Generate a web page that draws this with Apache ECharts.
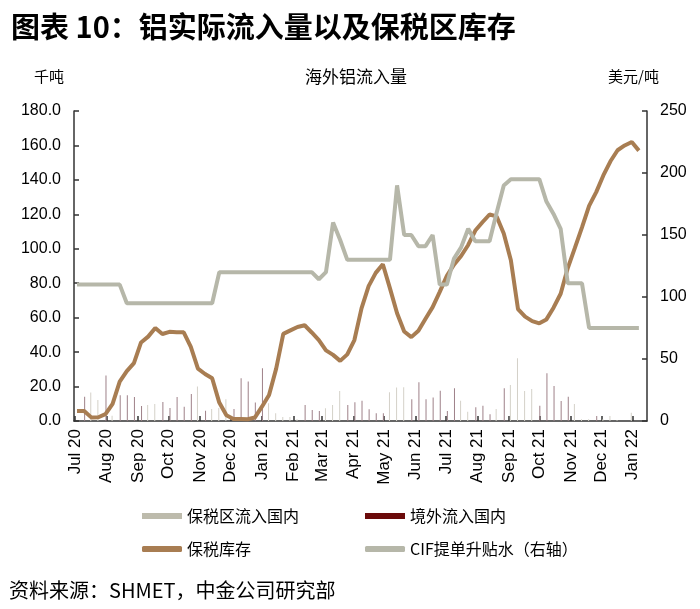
<!DOCTYPE html>
<html><head><meta charset="utf-8">
<script src="https://cdn.jsdelivr.net/npm/echarts@6/dist/echarts.min.js"></script>
<style>html,body{margin:0;padding:0;background:#fff}#c{width:700px;height:609px}</style>
</head><body><div id="c"></div>
<script>
// weekly observation dates
const weeks = [
 '2020-07-03','2020-07-10','2020-07-17','2020-07-24','2020-07-31','2020-08-07','2020-08-14','2020-08-21','2020-08-28',
 '2020-09-04','2020-09-11','2020-09-18','2020-09-25','2020-10-02','2020-10-09','2020-10-16','2020-10-23','2020-10-30',
 '2020-11-06','2020-11-13','2020-11-20','2020-11-27','2020-12-04','2020-12-11','2020-12-18','2020-12-25',
 '2021-01-01','2021-01-08','2021-01-15','2021-01-22','2021-01-29','2021-02-05','2021-02-12','2021-02-19','2021-02-26',
 '2021-03-05','2021-03-12','2021-03-19','2021-03-26','2021-04-02','2021-04-09','2021-04-16','2021-04-23','2021-04-30',
 '2021-05-07','2021-05-14','2021-05-21','2021-05-28','2021-06-04','2021-06-11','2021-06-18','2021-06-25',
 '2021-07-02','2021-07-09','2021-07-16','2021-07-23','2021-07-30','2021-08-06','2021-08-13','2021-08-20','2021-08-27',
 '2021-09-03','2021-09-10','2021-09-17','2021-09-24','2021-10-01','2021-10-08','2021-10-15','2021-10-22','2021-10-29',
 '2021-11-05','2021-11-12','2021-11-19','2021-11-26','2021-12-03','2021-12-10','2021-12-17','2021-12-24','2021-12-31',
 '2022-01-07'
];
// 保税区流入国内 (千吨)
const bondedInflow = [
 0,0,16.5,12.2,0,3,0,0,0,0, 9.3,9.9,0,0,0,0,0,20,0,7, 7.5,12.6,0,0,0,0,0,10.3,4.5,2.3,
 2.3,1,0,0,0,7.4,9.3,17.4,0,0, 0,0,0,0,16.7,19.4,19.6,0,0,0, 0,0,0,0,11.8,5.4,0,0,0,7,
 0,20.9,36.4,17.4,18.6,0,0,0,0,0, 9.9,1,1,0,1,2.9,0.5,0,4.8,0
];
// 境外流入国内 (千吨)
const overseasInflow = [
 0,14.1,0,0,26.4,0,15,15,14,8.7, 0,0,11,7.6,14,8.3,15.7,0,6,0, 0,0,7,24.8,22.9,10.7,30.6,0,0,0,
 0,0,9.3,6.4,5.8,0,0,0,9.3,10.9, 11.8,6.8,4.5,4.5,0,0,0,12.6,22.5,12.6, 13.6,17.6,5.8,19,0,0,8,8.9,3.9,0,
 19,0,0,0,0,8.9,27.7,20.3,11.6,14.1, 0,0,0,2.9,0,0,0,0,0,0
];
// 保税库存 (千吨)
const bondedStock = [
 5.8,5.8,2.1,2.2,4.0,10,22.8,29,33.6,45.6, 49,54,50.5,51.8,51.5,51.5,43,30.4,27.3,24.8,
 10.7,3.3,1.2,1.1,1.0,2,8.3,15.1,30.4,50.6, 52.6,54.6,55.6,51.4,47,41,38.4,34.9,38.7,47,
 65.4,78.3,86,91,77,62.6,52,48.7,52.4,59.4, 66.1,75,84.3,90.8,95.8,102.2,110.6,115.4,119.9,118.8,
 108.9,93.3,65,60.6,58,56.7,59,65.8,73.9,88.8, 100.5,112.4,124.9,132.9,142.6,150.8,157.2,160,162,157
];
// CIF提单升贴水 (美元/吨, 右轴)
const cifPremium = [
 110,110,110,110,110,110,110,95,95,95, 95,95,95,95,95,95,95,95,95,95,
 120,120,120,120,120,120,120,120,120,120, 120,120,120,120,114.3,120,160,146,130,130,
 130,130,130,130,130,190,150,150,141,141, 150,110,110,131,140,155,145,145,145,168,
 190,195,195,195,195,195,177,167,155,111, 111,111,75,75,75,75,75,75,75,75
];
const monthNames = ['Jan','Feb','Mar','Apr','May','Jun','Jul','Aug','Sep','Oct','Nov','Dec'];
const leftTicks = {min: 0, max: 180, step: 20};
const rightTicks = {min: 0, max: 250, step: 50};
const xRange = ['2020-07-01', '2022-01-14'];

const ts = weeks.map(d => Date.parse(d));
const pair = arr => arr.map((v, i) => [ts[i], v]);
const FONT = "'Liberation Sans','Noto Sans CJK SC',sans-serif";
const CJK = "'Noto Sans CJK SC','Liberation Sans',sans-serif";

const chart = echarts.init(document.getElementById('c'), null, {renderer: 'canvas'});
const axisLine = {show: true, lineStyle: {color: '#333', width: 1.5}};
const axisTick = {show: true, inside: true, length: 5, lineStyle: {color: '#333', width: 1.5}};
const legendCommon = {orient: 'vertical', top: 503, itemGap: 17, itemWidth: 40, itemHeight: 6,
  textStyle: {fontSize: 16, color: '#000', fontFamily: CJK}};

chart.setOption({
  animation: false,
  useUTC: true,
  backgroundColor: '#fff',
  title: [
    {text: '图表 10：铝实际流入量以及保税区库存', left: 6, top: 7,
     textStyle: {fontSize: 29, fontWeight: 'bold', color: '#000', fontFamily: CJK}},
    {text: '千吨', left: 29, top: 64, textStyle: {fontSize: 15, fontWeight: 'normal', color: '#000', fontFamily: CJK}},
    {text: '海外铝流入量', left: 300, top: 63, textStyle: {fontSize: 17, fontWeight: 'normal', color: '#000', fontFamily: CJK}},
    {text: '美元/吨', left: 603, top: 64, textStyle: {fontSize: 15, fontWeight: 'normal', color: '#000', fontFamily: CJK}},
    {text: '资料来源：SHMET，中金公司研究部', left: 4, top: 575, textStyle: {fontSize: 20, fontWeight: 'normal', color: '#000', fontFamily: CJK}}
  ],
  legend: [
    Object.assign({left: 137, data: [
      {name: '保税区流入国内', icon: 'rect', itemStyle: {color: '#bdbbac'}},
      {name: '保税库存', icon: 'roundRect', itemStyle: {color: '#a87d52'}}]}, legendCommon),
    Object.assign({left: 360, data: [
      {name: '境外流入国内', icon: 'rect', itemStyle: {color: '#6b0a0a'}},
      {name: 'CIF提单升贴水（右轴）', icon: 'roundRect', itemStyle: {color: '#b6b7a9'}}]}, legendCommon)
  ],
  grid: {left: 74, right: 53, top: 111, bottom: 188, containLabel: false},
  xAxis: {
    type: 'time',
    min: Date.parse(xRange[0]), max: Date.parse(xRange[1]),
    splitNumber: 18,
    minInterval: 28 * 86400000, maxInterval: 31 * 86400000,
    axisLine: axisLine, axisTick: axisTick,
    splitLine: {show: false},
    axisLabel: {
      rotate: 90, fontSize: 17, color: '#000', fontFamily: FONT, margin: 8,
      showMaxLabel: false, hideOverlap: false,
      formatter: function (v) {
        const d = new Date(v);
        if (d.getUTCDate() !== 1) return '';
        return monthNames[d.getUTCMonth()] + ' ' + String(d.getUTCFullYear()).slice(2);
      }
    }
  },
  yAxis: [
    {type: 'value', min: leftTicks.min, max: leftTicks.max, interval: leftTicks.step,
     axisLine: axisLine, axisTick: axisTick, splitLine: {show: false},
     axisLabel: {fontSize: 16, color: '#000', fontFamily: FONT, margin: 13, formatter: v => v.toFixed(1)}},
    {type: 'value', min: rightTicks.min, max: rightTicks.max, interval: rightTicks.step, position: 'right',
     axisLine: axisLine, axisTick: axisTick, splitLine: {show: false},
     axisLabel: {fontSize: 16, color: '#000', fontFamily: FONT, margin: 13}}
  ],
  series: [
    {name: '保税区流入国内', type: 'bar', data: pair(bondedInflow), barWidth: 1, barGap: '0%',
     itemStyle: {color: '#d4d1c8'}},
    {name: '境外流入国内', type: 'bar', data: pair(overseasInflow), barWidth: 1, barGap: '0%',
     itemStyle: {color: '#9e8088'}},
    {name: '保税库存', type: 'line', data: pair(bondedStock), symbol: 'none',
     lineStyle: {color: '#a87d52', width: 4}, itemStyle: {color: '#a87d52'}},
    {name: 'CIF提单升贴水（右轴）', type: 'line', yAxisIndex: 1, data: pair(cifPremium), symbol: 'none',
     lineStyle: {color: '#b6b7a9', width: 4}, itemStyle: {color: '#b6b7a9'}}
  ]
});
</script></body></html>
